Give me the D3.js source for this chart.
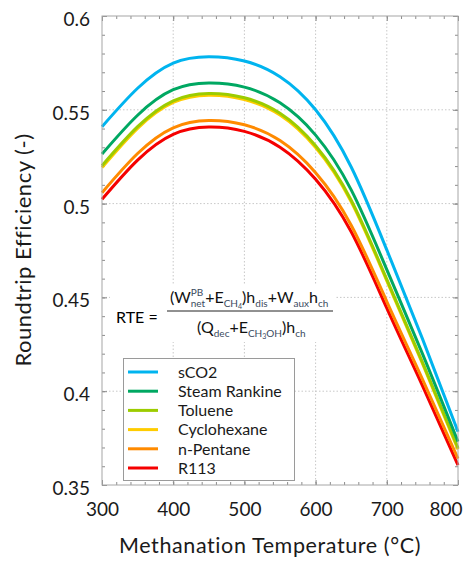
<!DOCTYPE html>
<html>
<head>
<meta charset="utf-8">
<script src="https://cdn.jsdelivr.net/npm/d3@7"></script>
<style>
body { margin: 0; background: #fff; }
svg { font-family: Lato, "Noto Sans", sans-serif; }
.grid line { stroke: #c8c8c8; stroke-dasharray: 1.5 2; }
.tick line { stroke: #8c8c8c; }
</style>
</head>
<body>
<div class="container"></div>
<script>
// methanation temperature (°C)
var temps = [300, 350, 400, 450, 500, 550, 600, 650, 700, 750, 800];

// roundtrip efficiency per working fluid
var sCO2        = [0.5410, 0.5615, 0.5749, 0.5783, 0.5760, 0.5676, 0.5500, 0.5195, 0.4753, 0.4280, 0.3784];
var steam       = [0.5264, 0.5471, 0.5607, 0.5643, 0.5621, 0.5537, 0.5365, 0.5073, 0.4648, 0.4200, 0.3731];
var toluene     = [0.5202, 0.5410, 0.5548, 0.5587, 0.5564, 0.5481, 0.5308, 0.5018, 0.4596, 0.4155, 0.3697];
var cyclohexane = [0.5192, 0.5401, 0.5539, 0.5578, 0.5555, 0.5472, 0.5299, 0.5010, 0.4588, 0.4148, 0.3690];
var nPentane    = [0.5058, 0.5267, 0.5404, 0.5443, 0.5420, 0.5336, 0.5165, 0.4885, 0.4478, 0.4065, 0.3641];
var r113        = [0.5023, 0.5232, 0.5369, 0.5408, 0.5385, 0.5301, 0.5130, 0.4850, 0.4443, 0.4030, 0.3606];

var names = ['sCO2', 'Steam Rankine', 'Toluene', 'Cyclohexane', 'n-Pentane', 'R113'];
var values = [sCO2, steam, toluene, cyclohexane, nPentane, r113];
var colors = ['#00b4ef', '#00a862', '#9ccc00', '#ffcc00', '#ff8a00', '#f50000'];

var xTicks = [300, 400, 500, 600, 700, 800];
var yTicks = [0.35, 0.4, 0.45, 0.5, 0.55, 0.6];

const WIDTH = 466;
const HEIGHT = 561;
const M = {left: 102, top: 16, right: 8, bottom: 76};
const W = WIDTH - M.left - M.right;
const H = HEIGHT - M.top - M.bottom;

var translate = (x, y) => `translate(${x},${y})`;

var x = d3.scaleLinear().domain([300, 800]).range([0, W]);
var y = d3.scaleLinear().domain([0.35, 0.6]).range([H, 0]);

var xMinor = d3.range(300, 801, 20);
var yMinor = d3.range(35, 61, 1).map(d => d / 100);

var svg = d3.select('.container').append('svg')
    .attr('width', WIDTH)
    .attr('height', HEIGHT);

var g = svg.append('g').attr('transform', translate(M.left, M.top));

// grid
g.append('g').attr('class', 'grid')
    .selectAll('line').data(xTicks.slice(1, -1)).enter().append('line')
    .attr('x1', x).attr('x2', x).attr('y1', 0).attr('y2', H);
g.append('g').attr('class', 'grid')
    .selectAll('line').data(yTicks.slice(1, -1)).enter().append('line')
    .attr('x1', 0).attr('x2', W).attr('y1', y).attr('y2', y);

// ticks on all four sides, pointing inward
var addAxis = function (axis, tf, labels) {
    var a = g.append('g').attr('transform', tf).call(axis);
    a.select('.domain').remove();
    if (!labels) a.selectAll('text').remove();
    return a;
};

var bottom = addAxis(d3.axisBottom(x).tickValues(xTicks).tickFormat(d3.format('d'))
    .tickSize(-5).tickPadding(18), translate(0, H), true);
bottom.selectAll('text').attr('font-size', 19).attr('fill', '#1a1a1a')
    .attr('font-family', 'Lato, sans-serif');
bottom.selectAll('.tick').filter(d => d === 800).select('text')
    .attr('text-anchor', 'end').attr('dx', 4);

var left = addAxis(d3.axisLeft(y).tickValues(yTicks).tickFormat(d => String(d))
    .tickSize(-5).tickPadding(12), translate(0, 0), true);
left.selectAll('text').attr('font-size', 19).attr('fill', '#1a1a1a')
    .attr('font-family', 'Lato, sans-serif').attr('dy', '0.5em');

addAxis(d3.axisTop(x).tickValues(xTicks).tickSize(-5), translate(0, 0), false);
addAxis(d3.axisRight(y).tickValues(yTicks).tickSize(-5), translate(W, 0), false);
addAxis(d3.axisBottom(x).tickValues(xMinor).tickSize(-3), translate(0, H), false);
addAxis(d3.axisTop(x).tickValues(xMinor).tickSize(-3), translate(0, 0), false);
addAxis(d3.axisLeft(y).tickValues(yMinor).tickSize(-3), translate(0, 0), false);
addAxis(d3.axisRight(y).tickValues(yMinor).tickSize(-3), translate(W, 0), false);

// lines
var line = d3.line()
    .x((d, i) => x(temps[i]))
    .y(d => y(d))
    .curve(d3.curveNatural);

var order = [5, 4, 3, 2, 1, 0];
g.append('g').selectAll('path')
    .data(order).enter().append('path')
    .attr('d', i => line(values[i]))
    .attr('fill', 'none')
    .attr('stroke', i => colors[i])
    .attr('stroke-width', 3);

// frame
g.append('rect')
    .attr('width', W).attr('height', H)
    .attr('fill', 'none').attr('stroke', '#a6a6a6').attr('stroke-width', 1);

// formula
var f = svg.append('g');
f.append('rect').attr('x', 110).attr('y', 284).attr('width', 226).attr('height', 58).attr('fill', '#fff');
f.append('text').attr('x', 116).attr('y', 323).attr('font-size', 16).text('RTE =');
f.append('line').attr('x1', 167).attr('x2', 333).attr('y1', 311).attr('y2', 311)
    .attr('stroke', '#222').attr('stroke-width', 1);

var sub = (t, s, dy, fill) => t.append('tspan').attr('font-size', 10).attr('dy', dy)
    .attr('fill', fill || '#3a4a5e').text(s);
var main = (t, s, dy) => t.append('tspan').attr('font-size', 16).attr('dy', dy || 0).text(s);

var num = f.append('text').attr('x', 170).attr('y', 303).attr('fill', '#111');
main(num, '(W');
var pb = sub(num, 'PB', -7, '#3a4a5e');
var pbw = pb.node().getComputedTextLength();
sub(num, 'net', 11).attr('dx', -pbw);
main(num, '+E', -4);
sub(num, 'CH', 4);
sub(num, '4', 2).attr('font-size', 7);
main(num, ')h', -6);
sub(num, 'dis', 4);
main(num, '+W', -4);
sub(num, 'aux', 4);
main(num, 'h', -4);
sub(num, 'ch', 4);

var den = f.append('text').attr('x', 197).attr('y', 333).attr('fill', '#111');
main(den, '(Q');
sub(den, 'dec', 4);
main(den, '+E', -4);
sub(den, 'CH', 4);
sub(den, '3', 2).attr('font-size', 7);
sub(den, 'OH', -2);
main(den, ')h', -4);
sub(den, 'ch', 4);

// legend
var lg = svg.append('g');
lg.append('rect').attr('x', 123.5).attr('y', 358.5).attr('width', 171).attr('height', 122)
    .attr('fill', '#fff').attr('stroke', '#9a9a9a');
var item = lg.selectAll('g.item').data(names).enter().append('g')
    .attr('class', 'item')
    .attr('transform', (d, i) => translate(0, 372 + i * 19.2));
item.append('line').attr('x1', 128).attr('x2', 158)
    .attr('stroke', (d, i) => colors[i]).attr('stroke-width', 3);
item.append('text').attr('x', 178).attr('dy', '0.36em')
    .attr('font-size', 16).attr('fill', '#1a1a1a').text(d => d);

// axis titles
svg.append('text').attr('x', 270).attr('y', 553).attr('text-anchor', 'middle')
    .attr('font-size', 21.5).attr('letter-spacing', 0.6).attr('fill', '#1a1a1a')
    .text('Methanation Temperature (°C)');
svg.append('text').attr('transform', translate(31, 250) + ' rotate(-90)')
    .attr('text-anchor', 'middle').attr('font-size', 22).attr('letter-spacing', 0.5)
    .attr('fill', '#1a1a1a')
    .text('Roundtrip Efficiency (-)');
</script>
</body>
</html>
